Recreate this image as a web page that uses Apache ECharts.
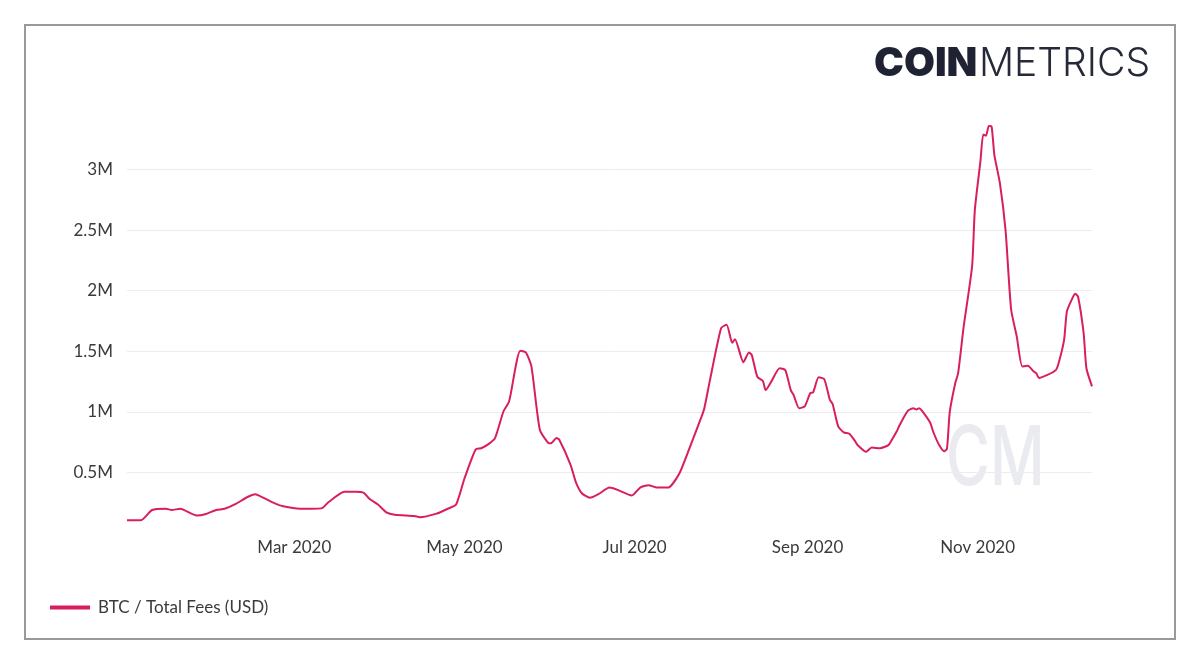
<!DOCTYPE html>
<html>
<head>
<meta charset="utf-8">
<script src="https://cdn.jsdelivr.net/npm/echarts@6/dist/echarts.min.js"></script>
<style>
html,body{margin:0;padding:0;background:#fff;}
#chart{width:1200px;height:665px;}
</style>
</head>
<body>
<div id="chart"></div>
<script>
// Dates (2020) and BTC total fees (USD, millions)
const dates = [
'2020-01-01','2020-01-06','2020-01-10','2020-01-15','2020-01-17','2020-01-20','2020-01-26','2020-01-29',
'2020-02-02','2020-02-05','2020-02-09','2020-02-13','2020-02-16','2020-02-19','2020-02-23','2020-02-26',
'2020-03-03','2020-03-07','2020-03-11','2020-03-13','2020-03-19','2020-03-23','2020-03-26','2020-03-28','2020-03-31',
'2020-04-03','2020-04-06','2020-04-13','2020-04-15','2020-04-21','2020-04-25','2020-04-28',
'2020-05-01','2020-05-05','2020-05-07','2020-05-10','2020-05-12','2020-05-15','2020-05-17','2020-05-21','2020-05-23','2020-05-25','2020-05-28','2020-05-31',
'2020-06-01','2020-06-03','2020-06-04','2020-06-08','2020-06-10','2020-06-12','2020-06-15','2020-06-18','2020-06-22','2020-06-25','2020-06-30',
'2020-07-03','2020-07-06','2020-07-09','2020-07-13','2020-07-17','2020-07-20','2020-07-25','2020-07-26','2020-07-28',
'2020-08-01','2020-08-03','2020-08-05','2020-08-06','2020-08-09','2020-08-11','2020-08-12','2020-08-14','2020-08-16','2020-08-17','2020-08-19','2020-08-22','2020-08-24','2020-08-26','2020-08-27','2020-08-29','2020-08-31',
'2020-09-02','2020-09-03','2020-09-05','2020-09-07','2020-09-09','2020-09-10','2020-09-12','2020-09-14','2020-09-16','2020-09-18','2020-09-19','2020-09-22','2020-09-24','2020-09-27','2020-09-30',
'2020-10-01','2020-10-03','2020-10-04','2020-10-07','2020-10-09','2020-10-10','2020-10-11','2020-10-12','2020-10-15','2020-10-16','2020-10-18','2020-10-20','2020-10-21','2020-10-22','2020-10-24','2020-10-25','2020-10-27','2020-10-30','2020-10-31',
'2020-11-02','2020-11-03','2020-11-04','2020-11-05','2020-11-06','2020-11-07','2020-11-09','2020-11-11','2020-11-13','2020-11-15','2020-11-17','2020-11-19','2020-11-21','2020-11-22','2020-11-23','2020-11-26','2020-11-29','2020-11-30',
'2020-12-02','2020-12-03','2020-12-05','2020-12-06','2020-12-07','2020-12-09','2020-12-10','2020-12-12'
];
const feesMillions = [
0.106,0.106,0.19,0.20,0.19,0.20,0.145,0.155,
0.19,0.20,0.24,0.295,0.32,0.29,0.245,0.22,
0.20,0.20,0.205,0.25,0.34,0.34,0.33,0.28,0.235,
0.17,0.15,0.14,0.13,0.16,0.20,0.235,
0.45,0.69,0.70,0.74,0.785,1.005,1.085,1.505,1.49,1.375,0.855,0.745,
0.74,0.785,0.77,0.565,0.415,0.33,0.29,0.32,0.375,0.355,0.31,
0.375,0.395,0.375,0.375,0.49,0.66,0.96,1.03,1.26,
1.69,1.72,1.57,1.60,1.41,1.49,1.47,1.29,1.255,1.18,1.25,1.36,1.345,1.18,1.14,1.03,1.045,
1.155,1.16,1.285,1.27,1.10,1.065,0.88,0.83,0.82,0.76,0.725,0.67,0.705,0.70,0.725,
0.76,0.84,0.89,1.01,1.03,1.02,1.03,1.01,0.91,0.84,0.735,0.675,0.695,1.0,1.24,1.32,1.705,2.20,2.67,
3.07,3.29,3.28,3.36,3.355,3.12,2.885,2.50,1.845,1.625,1.375,1.38,1.335,1.32,1.28,1.305,1.345,1.40,
1.595,1.83,1.94,1.975,1.95,1.65,1.36,1.21
];
const xTickDates = ['2020-03-01','2020-05-01','2020-07-01','2020-09-01','2020-11-01'];
const monthNames = ['Jan','Feb','Mar','Apr','May','Jun','Jul','Aug','Sep','Oct','Nov','Dec'];
const seriesName = 'BTC / Total Fees (USD)';

const lineColor = '#d91f59';
const font = 'Lato, "Open Sans", sans-serif';
const textColor = '#3a3a3a';

function toTime(s) {
  const p = s.split('-').map(Number);
  return Date.UTC(p[0], p[1] - 1, p[2]);
}

const chart = echarts.init(document.getElementById('chart'), null, {renderer: 'canvas'});
const seriesData = dates.map((d, i) => [toTime(d), feesMillions[i]]);
const tickTimes = xTickDates.map(toTime);

chart.setOption({
  animation: false,
  backgroundColor: '#ffffff',
  textStyle: {fontFamily: font},
  grid: {left: 127, right: 108, top: 126, bottom: 132, containLabel: false},
  legend: {
    left: 45, top: 594,
    icon: 'rect', itemWidth: 40, itemHeight: 4,
    textStyle: {fontFamily: font, fontSize: 17, color: textColor, padding: [0, 0, 0, 3]},
    data: [seriesName]
  },
  xAxis: {
    type: 'value',
    min: toTime(dates[0]), max: toTime(dates[dates.length - 1]),
    axisLine: {show: false},
    axisTick: {show: false},
    splitLine: {show: false},
    axisLabel: {
      customValues: tickTimes,
      margin: 6,
      fontFamily: font, fontSize: 17, color: textColor,
      formatter: function (v) {
        const d = new Date(v);
        return monthNames[d.getUTCMonth()] + ' ' + d.getUTCFullYear();
      }
    }
  },
  yAxis: {
    type: 'value',
    min: 0, max: 'dataMax', interval: 0.5,
    axisLine: {show: false},
    axisTick: {show: false},
    axisLabel: {
      showMinLabel: false, showMaxLabel: false,
      margin: 14,
      fontFamily: font, fontSize: 17, color: textColor,
      formatter: v => v + 'M'
    },
    splitLine: {
      lineStyle: {color: ['rgba(0,0,0,0)', '#ececec', '#ececec', '#ececec', '#ececec', '#ececec', '#ececec', 'rgba(0,0,0,0)'], width: 1}
    }
  },
  graphic: [
    {type: 'rect', shape: {x: 25, y: 25, width: 1150, height: 614}, style: {fill: 'none', stroke: '#999', lineWidth: 2}, z: 100, silent: true},
    {type: 'text', left: 874, top: 44, style: {text: 'COIN', font: '900 40px Inter, sans-serif', fill: '#1f2233'}, z: 100},
    {type: 'text', left: 979, top: 45, style: {text: 'METRICS', font: '300 39px Inter, sans-serif', fill: '#262938'}, z: 100},
    {type: 'text', x: 946, y: 419, scaleX: 0.73, style: {text: 'CM', font: '500 82px Inter, sans-serif', fill: '#eaebf1'}, z: 0}
  ],
  series: [{
    name: seriesName,
    type: 'line',
    data: seriesData,
    showSymbol: false,
    smooth: 0.2,
    z: 5,
    lineStyle: {color: lineColor, width: 2},
    itemStyle: {color: lineColor}
  }]
});
</script>
</body>
</html>
